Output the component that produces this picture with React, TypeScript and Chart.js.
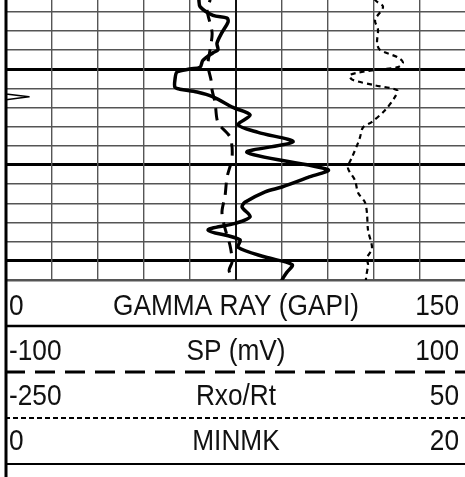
import React, { useEffect, useRef } from 'react';
import { Chart, registerables } from 'chart.js';

Chart.register(...registerables);

// depth grid (ft): one row = 2 ft, heavy line every 10 ft
const depthTicks = [5004, 5006, 5008, 5010, 5012, 5014, 5016, 5018, 5020, 5022, 5024, 5026, 5028, 5030, 5032];
const gridTicks = [1, 2, 3, 4, 5, 6, 7, 8, 9];
const depthTop = 5002.8;
const depthBottom = 5032;

// Gamma ray (GAPI), 0-150
const grDepth = [5001.8, 5002.8, 5003.5, 5004.4, 5004.7, 5005.1, 5006.2, 5007.3, 5008.0, 5008.3, 5009.1, 5009.8, 5010.0, 5010.3, 5011.1, 5011.9, 5012.1, 5012.4, 5012.9, 5014.0, 5014.8, 5015.8, 5016.6, 5017.6, 5018.7, 5020.5, 5021.3, 5022.3, 5022.8, 5023.9, 5024.4, 5025.4, 5026.1, 5026.8, 5027.8, 5028.6, 5029.6, 5030.4, 5031.2, 5032.0, 5033.0];
const grValues = [62.5, 62.9, 63.3, 67.5, 72.1, 72.4, 70.4, 68.8, 69.1, 67.5, 64.2, 63.3, 60.0, 55.8, 55.1, 55.1, 56.7, 62.3, 67.5, 74.0, 79.6, 75.7, 82.2, 93.6, 78.6, 105.0, 98.5, 90.0, 84.5, 77.9, 77.0, 79.6, 74.7, 65.9, 76.3, 75.7, 84.5, 93.3, 91.6, 90.0, 89.0];

// SP (mV), -100 to 100
const spDepth = [5001.8, 5002.8, 5003.8, 5006.2, 5008.0, 5009.6, 5011.1, 5012.2, 5013.5, 5015.6, 5017.1, 5019.2, 5021.3, 5023.3, 5024.9, 5026.6, 5028.4, 5030.1, 5031.0, 5032.0, 5033.0];
const spValues = [-11.3, -11.3, -12.6, -10.4, -11.3, -12.2, -10.9, -10.4, -9.1, -7.8, -2.6, -1.7, -3.9, -4.8, -6.1, -4.8, -2.6, -1.7, -3.0, -1.3, -1.3];

// Rxo/Rt, -250 to 50
const rxoDepth = [5001.8, 5002.8, 5003.5, 5004.9, 5005.9, 5007.3, 5008.0, 5008.8, 5009.3, 5009.8, 5010.1, 5010.6, 5011.1, 5011.7, 5012.2, 5012.9, 5014.3, 5015.5, 5016.1, 5017.1, 5017.7, 5019.2, 5020.3, 5021.6, 5022.9, 5023.9, 5025.0, 5026.8, 5028.7, 5029.7, 5030.4, 5031.8, 5033.0];
const rxoValues = [-11.3, -9.3, -4.1, -9.3, -7.4, -8.0, -6.1, 5.7, 8.9, 5.7, -9.3, -25.7, -24.3, -9.3, 5.0, 3.7, -2.8, -11.3, -17.2, -19.1, -20.4, -24.3, -27.0, -22.4, -20.4, -15.9, -14.6, -13.9, -11.3, -14.6, -13.9, -15.2, -15.2];

// MINMK, 0-20
const minmkDepth = [5001.8, 5012.6, 5012.9, 5013.2, 5033.0];
const minmkValues = [0, 0, 1.0, 0, 0];

// header tracks
const headerTitles = ['GAMMA RAY (GAPI)', 'SP (mV)', 'Rxo/Rt', 'MINMK'];
const headerMins = ['0', '-100', '-250', '0'];
const headerMaxs = ['150', '100', '50', '20'];
const scaleMins = [0, -100, -250, 0];
const scaleMaxs = [150, 100, 50, 20];

const lineDashes = [[], [12, 8], [5, 4], []];
const lineWidths = [3.5, 3, 2.2, 1.5];
const lineTension = [0.3, 0.3, 0.3, 0];
const headerDashes = [[], [20, 10], [5, 3], []];
const headerWidths = [2.5, 3, 2, 2];

const toPoints = (depths: number[], values: number[]) =>
  depths.map((d, i) => ({ x: values[i], y: d }));

function drawScaled(ctx: CanvasRenderingContext2D, text: string, x: number, y: number, align: CanvasTextAlign) {
  ctx.save();
  ctx.translate(x, y);
  ctx.scale(0.875, 1);
  ctx.textAlign = align;
  ctx.fillText(text, 0, 0);
  ctx.restore();
}

const headerPlugin = {
  id: 'logHeader',
  afterDraw(chart: any) {
    const { ctx, chartArea } = chart;
    const left = chartArea.left;
    const right = chart.width;
    const rowH = 46;
    ctx.save();
    for (let i = 0; i < 4; i++) {
      const top = chartArea.bottom + i * rowH;
      const bottom = top + rowH;
      const base = bottom - 11 - i;
      ctx.fillStyle = '#111';
      ctx.font = '30px "Liberation Sans", Arial, sans-serif';
      ctx.textBaseline = 'alphabetic';
      drawScaled(ctx, headerMins[i], 9, base, 'left');
      drawScaled(ctx, headerTitles[i], 236, base, 'center');
      drawScaled(ctx, headerMaxs[i], 459, base, 'right');
      ctx.beginPath();
      ctx.setLineDash(headerDashes[i]);
      ctx.lineWidth = headerWidths[i];
      ctx.strokeStyle = '#000';
      ctx.moveTo(left - 1, bottom);
      ctx.lineTo(right, bottom);
      ctx.stroke();
    }
    ctx.setLineDash([]);
    ctx.lineWidth = 3;
    ctx.strokeStyle = '#000';
    ctx.beginPath();
    ctx.moveTo(left, 0);
    ctx.lineTo(left, chart.height);
    ctx.stroke();
    ctx.restore();
  },
};

export default function App() {
  const canvasRef = useRef<HTMLCanvasElement | null>(null);

  useEffect(() => {
    const canvas = canvasRef.current;
    if (!canvas) return;
    const curveAxes = ['xGR', 'xSP', 'xRXO', 'xMINMK'];
    const scales: any = {
      y: {
        type: 'linear',
        position: 'left',
        reverse: true,
        min: depthTop,
        max: depthBottom,
        afterBuildTicks: (axis: any) => {
          axis.ticks = depthTicks.map((v) => ({ value: v }));
        },
        ticks: { display: false },
        border: { display: false },
        grid: {
          drawTicks: false,
          color: (c: any) => (c.tick && c.tick.value % 10 === 0 ? '#000' : '#555'),
          lineWidth: (c: any) => (c.tick && c.tick.value % 10 === 0 ? 3 : c.tick && c.tick.value === depthBottom ? 2.5 : 1.4),
        },
      },
      xGrid: {
        type: 'linear',
        position: 'bottom',
        min: 0,
        max: 10,
        afterBuildTicks: (axis: any) => {
          axis.ticks = gridTicks.map((v) => ({ value: v }));
        },
        ticks: { display: false },
        border: { display: false },
        grid: {
          drawTicks: false,
          color: (c: any) => (c.tick && c.tick.value === 5 ? '#111' : '#555'),
          lineWidth: (c: any) => (c.tick && c.tick.value === 5 ? 2 : 1.4),
        },
      },
    };
    curveAxes.forEach((id, i) => {
      scales[id] = { type: 'linear', display: false, min: scaleMins[i], max: scaleMaxs[i] };
    });

    const series = [
      toPoints(grDepth, grValues),
      toPoints(spDepth, spValues),
      toPoints(rxoDepth, rxoValues),
      toPoints(minmkDepth, minmkValues),
    ];

    const chart = new Chart(canvas, {
      type: 'scatter',
      data: {
        datasets: series.map((data, i) => ({
          label: headerTitles[i],
          data,
          xAxisID: curveAxes[i],
          yAxisID: 'y',
          showLine: true,
          pointRadius: 0,
          borderColor: '#000',
          backgroundColor: '#000',
          borderWidth: lineWidths[i],
          borderDash: lineDashes[i],
          borderCapStyle: 'butt',
          borderJoinStyle: 'round',
          tension: lineTension[i],
          fill: false,
        })),
      },
      options: {
        responsive: false,
        maintainAspectRatio: false,
        animation: false,
        devicePixelRatio: 1,
        layout: { padding: { left: 6, right: 4, top: 0, bottom: 197 } },
        plugins: { legend: { display: false }, tooltip: { enabled: false } },
        scales,
      },
      plugins: [headerPlugin],
    });
    return () => chart.destroy();
  }, []);

  return (
    <div style={{ position: 'fixed', left: 0, top: 0, width: 465, height: 477, overflow: 'hidden', background: '#fff' }}>
      <canvas ref={canvasRef} width={470} height={477} style={{ display: 'block' }} />
    </div>
  );
}
